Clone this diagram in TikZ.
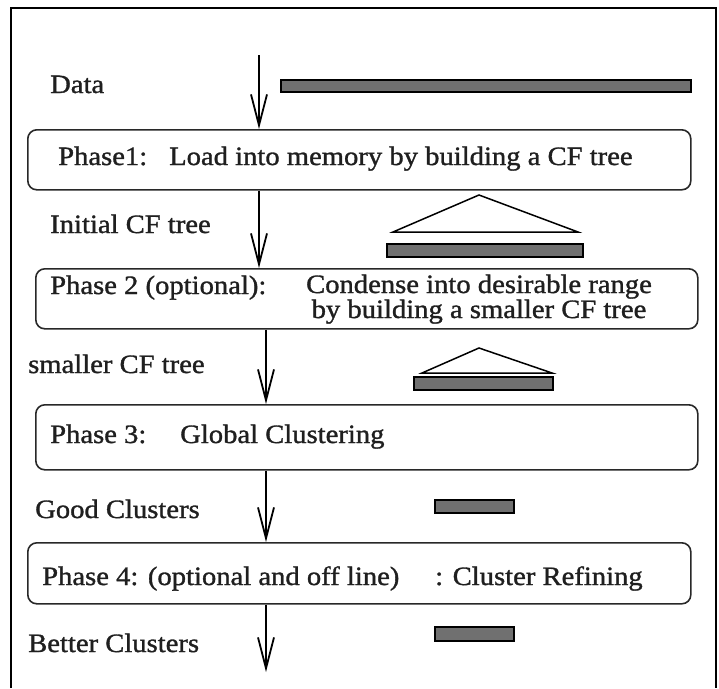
\documentclass[tikz,border=0pt]{standalone}
\usepackage{fontspec}
\setmainfont[FakeStretch=1.08,FakeBold=1.2]{Liberation Serif}
\usetikzlibrary{arrows.meta}

\definecolor{bargray}{RGB}{112,112,112}
\definecolor{edge}{RGB}{40,40,40}

\tikzset{
  phase/.style={draw=edge, line width=1.6pt, rounded corners=9pt, anchor=north west, inner sep=0pt},
  lbl/.style={font=\fontsize{26.5}{20}\selectfont, text=black!88, inner sep=0pt, anchor=base west},
  flow/.style={line width=1.8pt, -{Straight Barb[length=31pt,width=16pt]}},
  bar/.style={draw, line width=1.5pt, fill=bargray},
  tree/.style={draw, line width=1.5pt, line join=miter}
}

\begin{document}
\begin{tikzpicture}[x=1pt,y=-1pt]
  \useasboundingbox (0,0) rectangle (719,688);
  \draw[line width=1.5pt] (11,688) -- (11,8) -- (716,8) -- (716,688);

  % the four phases
  \node[phase, minimum width=663pt, minimum height=60pt] (p1) at (27,129) {};
  \node[phase, minimum width=662pt, minimum height=60pt] (p2) at (35,268) {};
  \node[phase, minimum width=662pt, minimum height=65pt] (p3) at (35,404) {};
  \node[phase, minimum width=663pt, minimum height=61pt] (p4) at (27,542) {};

  \node[lbl] (p1a) at (58,165) {Phase1:};
  \node[lbl] (p1b) at (169,165) {Load into memory by building a CF tree};
  \node[lbl] (p2a) at (50,294) {Phase 2 (optional):};
  \node[lbl, anchor=base] (p2b) at (479,293) {Condense into desirable range};
  \node[lbl, anchor=base] (p2c) at (479,318) {by building a smaller CF tree};
  \node[lbl] (p3a) at (50,443) {Phase 3:};
  \node[lbl] (p3b) at (180,443) {Global Clustering};
  \node[lbl] (p4a) at (42,585) {Phase 4: (optional and off line)};
  \node[lbl] (p4b) at (435,585) {: Cluster Refining};

  % what flows between them
  \node[lbl] (data) at (50,93) {Data};
  \node[lbl] (init) at (50,233) {Initial CF tree};
  \node[lbl] (small) at (28,373) {smaller CF tree};
  \node[lbl] (good) at (35,518) {Good Clusters};
  \node[lbl] (better) at (28,652) {Better Clusters};

  \coordinate (in) at (259,55);
  \coordinate (out) at (266,672);
  \draw[flow] (in) -- (in |- p1.north);
  \draw[flow] (p1.south -| in) -- (p2.north -| in);
  \draw[flow] (p2.south -| out) -- (p3.north -| out);
  \draw[flow] (p3.south -| out) -- (p4.north -| out);
  \draw[flow] (p4.south -| out) -- (out);

  % data bars and CF trees
  \foreach \l/\t/\r/\b in {281/80/691/92, 387/244/583/257, 414/377/553/390,
                           435/500/514/513, 435/627/514/641}
    \draw[bar] (\l,\t) rectangle (\r,\b);
  \draw[tree] (393,232) -- (479,195) -- (578,232) -- cycle;
  \draw[tree] (422,373) -- (479,348) -- (552,373) -- cycle;
\end{tikzpicture}
\end{document}
